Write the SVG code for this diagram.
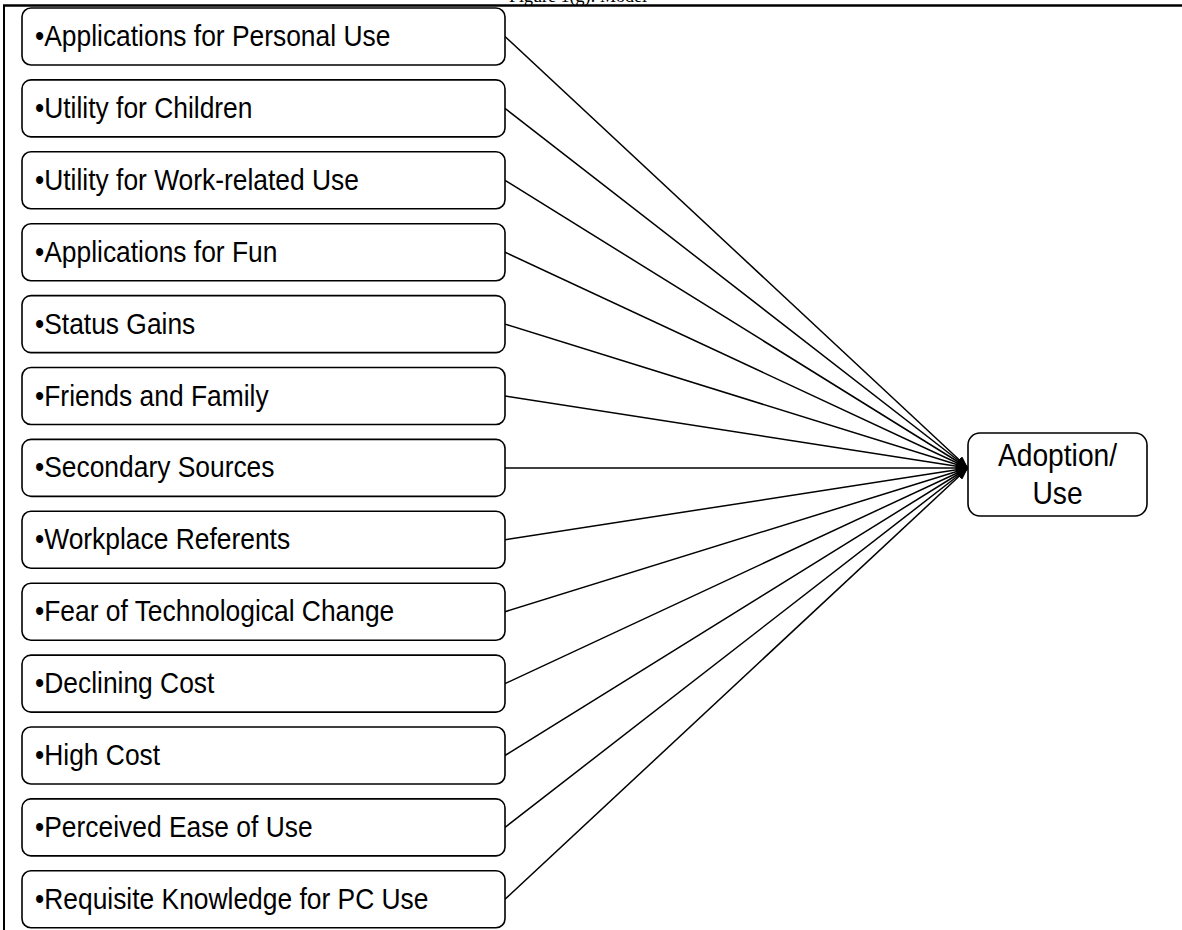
<svg xmlns="http://www.w3.org/2000/svg" width="1182" height="930" viewBox="0 0 1182 930">
<defs>
<style>
.box{fill:#fff;stroke:#000;stroke-width:1.6}
.lbl{font-family:"Liberation Sans",Arial,sans-serif;font-size:29px;fill:#000}
.big{font-family:"Liberation Sans",Arial,sans-serif;font-size:31px;fill:#000;text-anchor:middle}
.con{stroke:#000;stroke-width:1.5;fill:none;marker-end:url(#ah)}
</style>
<marker id="ah" markerWidth="12" markerHeight="9" refX="12" refY="4.5" orient="auto" markerUnits="userSpaceOnUse">
<path d="M0,0 L12,4.5 L0,9 Z" fill="#000"/>
</marker>
</defs>
<rect width="1182" height="930" fill="#fff"/>
<text x="578" y="1.5" text-anchor="middle" font-family="Liberation Serif,serif" font-size="18">Figure 1(g): Model</text>
<line x1="3" y1="5.5" x2="1182" y2="5.5" stroke="#000" stroke-width="2.5"/>
<line x1="4" y1="5" x2="4" y2="930" stroke="#000" stroke-width="2"/>
<g id="connectors">
<line class="con" x1="505" y1="36.5" x2="968" y2="468"/>
<line class="con" x1="505" y1="108.4" x2="968" y2="468"/>
<line class="con" x1="505" y1="180.3" x2="968" y2="468"/>
<line class="con" x1="505" y1="252.2" x2="968" y2="468"/>
<line class="con" x1="505" y1="324.1" x2="968" y2="468"/>
<line class="con" x1="505" y1="396" x2="968" y2="468"/>
<line class="con" x1="505" y1="467.9" x2="968" y2="468"/>
<line class="con" x1="505" y1="539.8" x2="968" y2="468"/>
<line class="con" x1="505" y1="611.7" x2="968" y2="468"/>
<line class="con" x1="505" y1="683.6" x2="968" y2="468"/>
<line class="con" x1="505" y1="755.5" x2="968" y2="468"/>
<line class="con" x1="505" y1="827.4" x2="968" y2="468"/>
<line class="con" x1="505" y1="899.3" x2="968" y2="468"/>
</g>
<g id="n1"><rect class="box" x="22" y="8" width="483" height="57" rx="9"/><text class="lbl" transform="translate(35,46) scale(0.91,1)">•Applications for Personal Use</text></g>
<g id="n2"><rect class="box" x="22" y="79.9" width="483" height="57" rx="9"/><text class="lbl" transform="translate(35,117.9) scale(0.91,1)">•Utility for Children</text></g>
<g id="n3"><rect class="box" x="22" y="151.8" width="483" height="57" rx="9"/><text class="lbl" transform="translate(35,189.8) scale(0.91,1)">•Utility for Work-related Use</text></g>
<g id="n4"><rect class="box" x="22" y="223.7" width="483" height="57" rx="9"/><text class="lbl" transform="translate(35,261.7) scale(0.91,1)">•Applications for Fun</text></g>
<g id="n5"><rect class="box" x="22" y="295.6" width="483" height="57" rx="9"/><text class="lbl" transform="translate(35,333.6) scale(0.91,1)">•Status Gains</text></g>
<g id="n6"><rect class="box" x="22" y="367.5" width="483" height="57" rx="9"/><text class="lbl" transform="translate(35,405.5) scale(0.91,1)">•Friends and Family</text></g>
<g id="n7"><rect class="box" x="22" y="439.4" width="483" height="57" rx="9"/><text class="lbl" transform="translate(35,477.4) scale(0.91,1)">•Secondary Sources</text></g>
<g id="n8"><rect class="box" x="22" y="511.3" width="483" height="57" rx="9"/><text class="lbl" transform="translate(35,549.3) scale(0.91,1)">•Workplace Referents</text></g>
<g id="n9"><rect class="box" x="22" y="583.2" width="483" height="57" rx="9"/><text class="lbl" transform="translate(35,621.2) scale(0.91,1)">•Fear of Technological Change</text></g>
<g id="n10"><rect class="box" x="22" y="655.1" width="483" height="57" rx="9"/><text class="lbl" transform="translate(35,693.1) scale(0.91,1)">•Declining Cost</text></g>
<g id="n11"><rect class="box" x="22" y="727" width="483" height="57" rx="9"/><text class="lbl" transform="translate(35,765) scale(0.91,1)">•High Cost</text></g>
<g id="n12"><rect class="box" x="22" y="798.9" width="483" height="57" rx="9"/><text class="lbl" transform="translate(35,836.9) scale(0.91,1)">•Perceived Ease of Use</text></g>
<g id="n13"><rect class="box" x="22" y="870.8" width="483" height="57" rx="9"/><text class="lbl" transform="translate(35,908.8) scale(0.91,1)">•Requisite Knowledge for PC Use</text></g>
<g id="adoption"><rect class="box" x="968" y="433" width="179" height="83" rx="12"/><text class="big" transform="translate(1057.5,466) scale(0.91,1)">Adoption/</text><text class="big" transform="translate(1057.5,504) scale(0.91,1)">Use</text></g>
</svg>
